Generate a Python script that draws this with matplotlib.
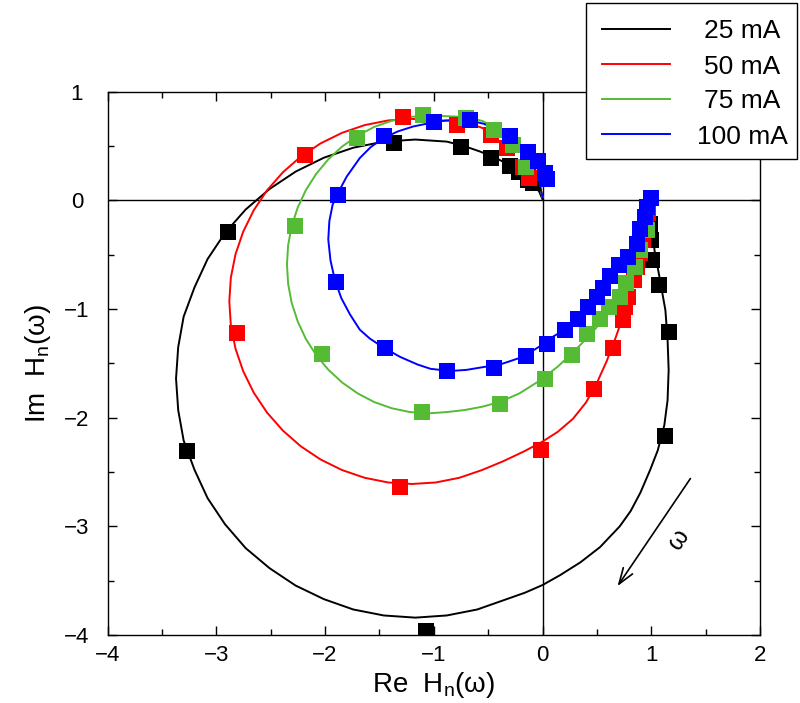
import matplotlib
matplotlib.use('Agg')
import matplotlib.pyplot as plt
from matplotlib.lines import Line2D
from matplotlib.patches import Rectangle

plt.rcParams['font.family'] = ['Liberation Sans', 'DejaVu Sans']
plt.rcParams['mathtext.fontset'] = 'custom'
plt.rcParams['mathtext.rm'] = 'Liberation Sans'
plt.rcParams['mathtext.it'] = 'Liberation Sans:italic'

currents = ['25 mA', '50 mA', '75 mA', '100 mA']
colors = ['#000000', '#ff0000', '#55bb35', '#0000ff']

# fitted response curves, Re/Im of H_n(w), starting at w = 0
fit_re_25 = [1.00, 1.01, 1.03, 1.08, 1.13, 1.15, 1.16, 1.15, 1.12, 1.06,
             0.99, 0.90, 0.81, 0.71, 0.53, 0.35, 0.16, 0.00, -0.16, -0.33,
             -0.60, -0.88, -1.17, -1.46, -1.74, -2.01, -2.27, -2.51, -2.73, -2.92,
             -3.08, -3.20, -3.30, -3.35, -3.37, -3.35, -3.30, -3.20, -3.08, -2.92,
             -2.73, -2.51, -2.27, -2.01, -1.74, -1.46, -1.17, -0.88, -0.72, -0.575,
             -0.42, -0.27, -0.17, -0.087, -0.03, 0.00]
fit_im_25 = [-0.02, -0.23, -0.46, -0.73, -1.01, -1.28, -1.56, -1.84, -2.07, -2.30,
             -2.48, -2.69, -2.86, -3.00, -3.19, -3.33, -3.45, -3.54, -3.61, -3.67,
             -3.765, -3.82, -3.84, -3.82, -3.765, -3.67, -3.545, -3.385, -3.20, -2.98,
             -2.74, -2.48, -2.21, -1.93, -1.64, -1.35, -1.07, -0.80, -0.54, -0.30,
             -0.084, 0.105, 0.265, 0.393, 0.485, 0.541, 0.56, 0.541, 0.50, 0.45,
             0.385, 0.31, 0.24, 0.16, 0.08, 0.01]

fit_re_50 = [0.99, 0.95, 0.91, 0.86, 0.80, 0.74, 0.67, 0.59, 0.50, 0.40,
             0.28, 0.14, 0.00, -0.17, -0.36, -0.557, -0.765, -0.981, -1.20,
             -1.419, -1.635, -1.843, -2.04, -2.223, -2.388, -2.533, -2.655, -2.752, -2.823,
             -2.866, -2.88, -2.866, -2.823, -2.752, -2.655, -2.533, -2.388, -2.223, -2.04,
             -1.843, -1.635, -1.419, -1.20, -0.981, -0.88, -0.73, -0.575, -0.42, -0.27,
             -0.16, -0.087, -0.03, 0.00]
fit_im_50 = [-0.02, -0.22, -0.44, -0.65, -0.87, -1.07, -1.27, -1.48, -1.68, -1.86,
             -2.01, -2.13, -2.22, -2.31, -2.40, -2.482, -2.553, -2.596, -2.61,
             -2.596, -2.553, -2.482, -2.385, -2.263, -2.118, -1.953, -1.77, -1.573, -1.365,
             -1.149, -0.93, -0.711, -0.495, -0.287, -0.09, 0.093, 0.258, 0.403, 0.525,
             0.622, 0.693, 0.736, 0.75, 0.736, 0.735, 0.715, 0.675, 0.61, 0.528,
             0.43, 0.31, 0.17, 0.03]

fit_re_75 = [0.99, 0.95, 0.91, 0.85, 0.78, 0.69, 0.59, 0.44, 0.28, 0.14,
             -0.02, -0.21, -0.39, -0.56, -0.72, -0.88, -1.05, -1.22, -1.386, -1.548,
             -1.70, -1.841, -1.969, -2.081, -2.176, -2.251, -2.306, -2.339, -2.35, -2.339,
             -2.306, -2.251, -2.176, -2.081, -1.969, -1.841, -1.70, -1.548, -1.386, -1.22,
             -1.05, -0.88, -0.694, -0.55, -0.455, -0.37, -0.299, -0.207, -0.115, -0.051,
             0.00]
fit_im_75 = [-0.02, -0.25, -0.42, -0.59, -0.74, -0.90, -1.06, -1.235, -1.40, -1.53,
             -1.655, -1.775, -1.855, -1.90, -1.93, -1.948, -1.96, -1.948, -1.913, -1.856,
             -1.776, -1.677, -1.559, -1.424, -1.275, -1.114, -0.945, -0.769, -0.59, -0.411,
             -0.235, -0.066, 0.095, 0.244, 0.379, 0.497, 0.596, 0.676, 0.733, 0.768,
             0.78, 0.775, 0.767, 0.73, 0.675, 0.62, 0.556, 0.464, 0.344, 0.215,
             0.03]

fit_re_100 = [0.99, 0.96, 0.91, 0.83, 0.71, 0.59, 0.44, 0.28, 0.17, 0.07,
              -0.02, -0.18, -0.39, -0.55, -0.70, -0.85, -1.03, -1.15, -1.31, -1.47,
              -1.59, -1.68, -1.77, -1.85, -1.91, -1.95, -1.97, -1.96, -1.93, -1.88,
              -1.80, -1.68, -1.58, -1.47, -1.33, -1.19, -0.97, -0.84, -0.69, -0.54,
              -0.39, -0.30, -0.21, -0.12, -0.05, 0.00]
fit_im_100 = [0.00, -0.12, -0.27, -0.43, -0.62, -0.80, -0.97, -1.13, -1.21, -1.27,
              -1.34, -1.44, -1.51, -1.535, -1.56, -1.57, -1.55, -1.51, -1.44, -1.35,
              -1.27, -1.19, -1.05, -0.90, -0.73, -0.55, -0.36, -0.19, -0.04, 0.07,
              0.22, 0.39, 0.49, 0.57, 0.635, 0.68, 0.725, 0.74, 0.74, 0.705,
              0.645, 0.575, 0.49, 0.38, 0.25, 0.03]

# measured points
pts_re_25 = [0.99, 1.00, 1.01, 1.07, 1.16, 1.13, -1.07, -3.27, -2.89,
             -1.37, -0.75, -0.47, -0.30, -0.22, -0.13, -0.09]
pts_im_25 = [-0.22, -0.36, -0.55, -0.78, -1.21, -2.17, -3.96, -2.31, -0.29,
             0.53, 0.49, 0.39, 0.32, 0.26, 0.19, 0.16]

pts_re_50 = [-2.18, -1.28, -0.79, -0.47, -0.33, -0.18, -0.12, -2.81, -1.31, -0.01,
             0.47, 0.65, 0.74, 0.76, 0.79, 0.84, 0.87, 0.90, 0.92, 0.95, 0.97]
pts_im_50 = [0.42, 0.77, 0.69, 0.60, 0.48, 0.31, 0.21, -1.22, -2.64, -2.30,
             -1.74, -1.36, -1.10, -0.98, -0.89, -0.73, -0.61, -0.48, -0.36, -0.23, -0.12]

pts_re_75 = [-2.28, -2.03, -1.11, -0.39, 0.02, 0.27, 0.41, 0.53, 0.61, 0.71,
             0.77, 0.85, 0.90, 0.96, -1.71, -1.10, -0.70, -0.45, -0.27, -0.15]
pts_im_75 = [-0.24, -1.41, -1.95, -1.87, -1.64, -1.42, -1.23, -1.09, -0.98, -0.89,
             -0.76, -0.61, -0.46, -0.27, 0.57, 0.79, 0.76, 0.65, 0.51, 0.31]

pts_re_100 = [-1.88, -1.90, -1.45, -0.88, -0.45, -0.15, 0.04, 0.21, 0.33, 0.42,
              0.50, 0.56, 0.62, 0.70, 0.79, 0.87, 0.90, 0.94, 0.96, 1.00,
              -1.46, -1.00, -0.67, -0.30, -0.13, -0.04, 0.02, 0.04]
pts_im_100 = [0.05, -0.75, -1.36, -1.57, -1.54, -1.43, -1.32, -1.19, -1.09, -0.98,
              -0.89, -0.81, -0.70, -0.59, -0.52, -0.40, -0.26, -0.15, -0.06, 0.02,
              0.59, 0.72, 0.74, 0.59, 0.45, 0.36, 0.25, 0.20]

fits = [(fit_re_25, fit_im_25), (fit_re_50, fit_im_50),
        (fit_re_75, fit_im_75), (fit_re_100, fit_im_100)]
points = [(pts_re_25, pts_im_25), (pts_re_50, pts_im_50),
          (pts_re_75, pts_im_75), (pts_re_100, pts_im_100)]

fig = plt.figure(figsize=(8, 7.03), dpi=100)
ax = fig.add_axes([0.1344, 0.0967, 0.8156, 0.7728])

ax.axhline(0, color='k', lw=1.0, zorder=1)
ax.axvline(0, color='k', lw=1.0, zorder=1)

for (fr, fi), (pr, pi), c in zip(fits, points, colors):
    ax.plot(fr, fi, color=c, lw=1.4, zorder=2, solid_joinstyle='round')
    ax.plot(pr, pi, 's', ms=11.5, mew=0, color=c, zorder=3)

ax.set_xlim(-4, 2)
ax.set_ylim(-4, 1)
ax.set_xticks(range(-4, 3))
ax.set_yticks(range(-4, 2))
ax.set_xticks([x / 2 for x in range(-8, 5)], minor=True)
ax.set_yticks([y / 2 for y in range(-8, 3)], minor=True)
ax.tick_params(which='both', direction='in', top=True, right=True, width=1.0)
ax.tick_params(which='major', length=6.5, labelsize=16)
ax.tick_params(which='minor', length=4)
ax.tick_params(axis='x', pad=7)
ax.tick_params(axis='y', pad=22)
for lbl in ax.get_yticklabels():
    lbl.set_horizontalalignment('center')
for s in ax.spines.values():
    s.set_linewidth(1.0)

ax.set_xlabel('Re  H$_{\\mathregular{n}}$(ω)', fontsize=20, labelpad=3)
ax.set_ylabel('Im  H$_{\\mathregular{n}}$(ω)', fontsize=20, labelpad=8)

# frequency direction
ax.annotate('', xy=(0.69, -3.55), xytext=(1.36, -2.56),
            arrowprops=dict(arrowstyle='->,head_length=1.15,head_width=0.4',
                            lw=1.2, color='k', shrinkA=0, shrinkB=0,
                            mutation_scale=10))
ax.text(1.25, -3.12, 'ω', rotation=56, ha='center', va='center', fontsize=18)

# legend box in the top right corner
W, H = 800, 703
fig.add_artist(Rectangle((586 / W, 1 - 159 / H), 211 / W, 156 / H,
                         transform=fig.transFigure, facecolor='white',
                         edgecolor='black', lw=1.0, zorder=10))
for i, (lab, c) in enumerate(zip(currents, colors)):
    yy = 1 - (29 + 35 * i) / H
    fig.add_artist(Line2D([602 / W, 670 / W], [yy, yy], color=c, lw=1.4,
                          transform=fig.transFigure, zorder=11))
    fig.text(742 / W, yy, lab, ha='center', va='center_baseline',
             fontsize=19, zorder=12)

fig.savefig('out.png', dpi=100)
